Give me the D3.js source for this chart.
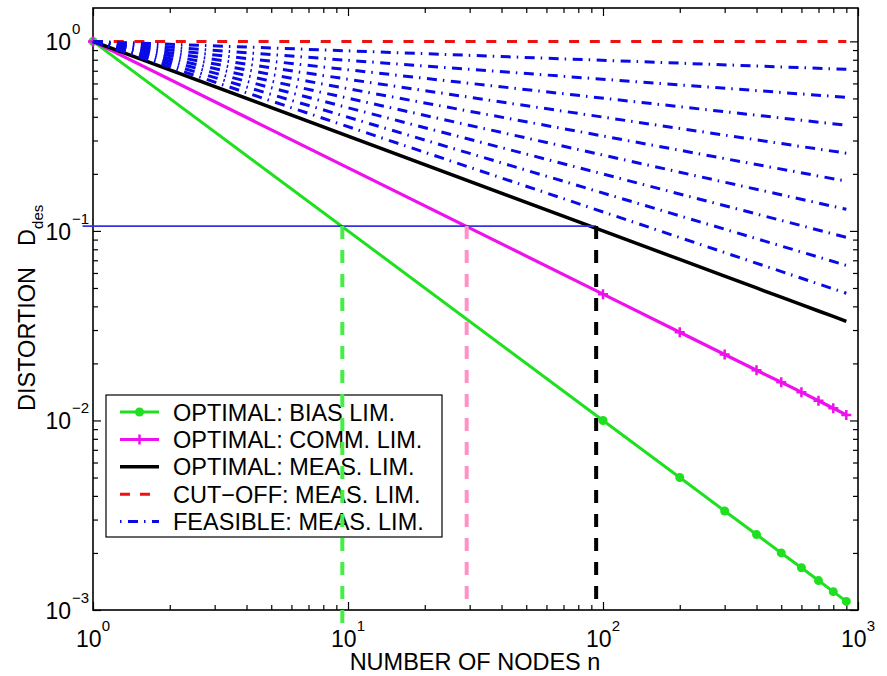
<!DOCTYPE html>
<html>
<head>
<meta charset="utf-8">
<script src="https://cdn.jsdelivr.net/npm/d3@7"></script>
<style>
  html, body { margin: 0; padding: 0; background: #fff; }
  svg { display: block; }
  text { font-family: "Liberation Sans", Arial, Helvetica, sans-serif; fill: #000; }
</style>
</head>
<body>
<svg id="chart" width="887" height="676"></svg>
<script>
// Number of nodes at which the optimal curves are sampled
const nodes = [1, 100, 200, 300, 400, 500, 600, 700, 800, 900];
// Optimal distortion, bias limited
const biasLim = [1, 0.01, 0.005, 0.00333, 0.0025, 0.002, 0.00167, 0.00143, 0.00125, 0.00111];
// Optimal distortion, communication limited
const commLim = [1, 0.0464, 0.0292, 0.0223, 0.0184, 0.0159, 0.0141, 0.0127, 0.0116, 0.0107];
// Optimal distortion, measurement limited
const measLim = [1, 0.1, 0.0707, 0.0577, 0.05, 0.0447, 0.0408, 0.0378, 0.0354, 0.0333];
// Cut-off distortion, measurement limited
const cutOff = [1, 1, 1, 1, 1, 1, 1, 1, 1, 1];
// Feasible (measurement limited) curves: span in n and distortion at each end
const feasibleNodes = [1, 900];
const feasibleStart = [1, 1, 1, 1, 1, 1, 1, 1, 1];
const feasibleEnd = [0.712, 0.507, 0.361, 0.257, 0.183, 0.130, 0.0925, 0.0658, 0.0469];
// Desired distortion level and the node counts where each optimal curve reaches it
const dDes = 0.106;
const dDesSpan = [0.91, 94];
const crossNodes = [9.5, 29.2, 94];
const crossBottom = [0.00082, 0.001, 0.001];
// Axis ticks
const xMajor = [1, 10, 100, 1000];
const xExp = ["0", "1", "2", "3"];
const yMajor = [1, 0.1, 0.01, 0.001];
const yExp = ["0", "\u22121", "\u22122", "\u22123"];
const legendLabels = [
  "OPTIMAL: BIAS LIM.",
  "OPTIMAL: COMM. LIM.",
  "OPTIMAL: MEAS. LIM.",
  "CUT\u2212OFF: MEAS. LIM.",
  "FEASIBLE: MEAS. LIM."
];

const GREEN = "#1fe01f", MAGENTA = "#ee11ee", RED = "#ee1111", BLUE = "#0a0ae6";
const DASHDOT = "10,6,1.5,6.5";
const FS = "23.5px";

const svg = d3.select("#chart");
const L = 93, R = 858, T = 8, B = 610;
const x = d3.scaleLog().domain([1, 1000]).range([L, R]);
const y = d3.scaleLog().domain([0.001, 1.5]).range([B, T]);

// minor tick positions (2..9 within each decade)
const xMinor = [];
[1, 10, 100].forEach(d => { for (let k = 2; k <= 9; k++) xMinor.push(k * d); });
const yMinor = [];
[0.001, 0.01, 0.1].forEach(d => { for (let k = 2; k <= 9; k++) yMinor.push(k * d); });

// ---- axes (ticks point inward on all four sides) ----
function addAxis(axisFn, transform, values, size) {
  const g = svg.append("g").attr("transform", transform)
    .call(axisFn.tickValues(values).tickSize(-size).tickSizeOuter(0).tickFormat(""));
  g.select(".domain").remove();
  g.selectAll(".tick line").attr("stroke", "#000").attr("stroke-width", 1.2);
  g.selectAll(".tick text").remove();
  return g;
}
addAxis(d3.axisBottom(x), `translate(0,${B})`, xMajor, 8);
addAxis(d3.axisBottom(x), `translate(0,${B})`, xMinor, 5);
addAxis(d3.axisTop(x), `translate(0,${T})`, xMajor, 8);
addAxis(d3.axisTop(x), `translate(0,${T})`, xMinor, 5);
addAxis(d3.axisLeft(y), `translate(${L},0)`, yMajor, 8);
addAxis(d3.axisLeft(y), `translate(${L},0)`, yMinor, 5);
addAxis(d3.axisRight(y), `translate(${R},0)`, yMajor, 8);
addAxis(d3.axisRight(y), `translate(${R},0)`, yMinor, 5);

svg.append("rect").attr("x", L).attr("y", T).attr("width", R - L).attr("height", B - T)
  .attr("fill", "none").attr("stroke", "#000").attr("stroke-width", 1.6);

// tick labels with superscript exponents
xMajor.forEach((v, i) => {
  const t = svg.append("text").attr("x", x(v)).attr("y", B + 37)
    .attr("text-anchor", "middle").style("font-size", "23px");
  t.append("tspan").text("10");
  t.append("tspan").attr("dy", -16).style("font-size", "15px").text(xExp[i]);
});
yMajor.forEach((v, i) => {
  svg.append("text").attr("x", 71).attr("y", y(v) + 9)
    .attr("text-anchor", "end").style("font-size", "23px").text("10");
  svg.append("text").attr("x", 72).attr("y", y(v) - 7)
    .style("font-size", "15px").text(yExp[i]);
});

// axis titles
svg.append("text").attr("x", 475).attr("y", 670).attr("text-anchor", "middle")
  .style("font-size", FS).text("NUMBER OF NODES  n");
const yl = svg.append("text").attr("transform", "translate(35,411) rotate(-90)")
  .style("font-size", FS);
yl.append("tspan").text("DISTORTION");
yl.append("tspan").attr("dx", 21).text("D");
yl.append("tspan").attr("dy", 8).style("font-size", "15px").text("des");

// ---- data curves ----
const line = d3.line().x(d => x(d[0])).y(d => y(d[1]));
const pairs = vals => nodes.map((n, i) => [n, vals[i]]);

svg.append("path").attr("d", line(pairs(biasLim))).attr("fill", "none")
  .attr("stroke", GREEN).attr("stroke-width", 3);
svg.append("g").selectAll("circle").data(pairs(biasLim)).join("circle")
  .attr("cx", d => x(d[0])).attr("cy", d => y(d[1])).attr("r", 4.5).attr("fill", GREEN);

svg.append("path").attr("d", line(pairs(commLim))).attr("fill", "none")
  .attr("stroke", MAGENTA).attr("stroke-width", 3.2);
svg.append("g").selectAll("path").data(pairs(commLim)).join("path")
  .attr("d", d => `M${x(d[0]) - 5},${y(d[1])}H${x(d[0]) + 5}M${x(d[0])},${y(d[1]) - 5}V${y(d[1]) + 5}`)
  .attr("stroke", MAGENTA).attr("stroke-width", 2.5).attr("fill", "none");

svg.append("path").attr("d", line(pairs(measLim))).attr("fill", "none")
  .attr("stroke", "#000").attr("stroke-width", 3.5);

svg.append("path").attr("d", line(pairs(cutOff))).attr("fill", "none")
  .attr("stroke", RED).attr("stroke-width", 3).attr("stroke-dasharray", "10,10.7");

feasibleEnd.forEach((e, i) => {
  const pts = [[feasibleNodes[0], feasibleStart[i]], [feasibleNodes[1], e]];
  svg.append("path").attr("d", line(pts)).attr("fill", "none")
    .attr("stroke", BLUE).attr("stroke-width", 3).attr("stroke-dasharray", DASHDOT);
});

// ---- legend ----
const lg = svg.append("g");
lg.append("rect").attr("x", 106).attr("y", 395).attr("width", 336).attr("height", 142)
  .attr("fill", "#fff").attr("stroke", "#000").attr("stroke-width", 1.2);
const rowY = i => 412 + i * 27.4;
const styles = [
  { c: GREEN, w: 3, dash: null },
  { c: MAGENTA, w: 3, dash: null },
  { c: "#000", w: 3.5, dash: null },
  { c: RED, w: 3, dash: "10,10" },
  { c: BLUE, w: 3, dash: DASHDOT, off: 16 }
];
legendLabels.forEach((lab, i) => {
  const s = styles[i];
  const ln = lg.append("line").attr("x1", 120).attr("x2", 159).attr("y1", rowY(i)).attr("y2", rowY(i))
    .attr("stroke", s.c).attr("stroke-width", s.w);
  if (s.dash) ln.attr("stroke-dasharray", s.dash).attr("stroke-dashoffset", s.off || 0);
  lg.append("text").attr("x", 173).attr("y", rowY(i) + 8.5)
    .style("font-size", FS).text(lab);
});
lg.append("circle").attr("cx", 139.5).attr("cy", rowY(0)).attr("r", 4.5).attr("fill", GREEN);
lg.append("path").attr("d", `M134.5,${rowY(1)}H144.5M139.5,${rowY(1) - 5}V${rowY(1) + 5}`)
  .attr("stroke", MAGENTA).attr("stroke-width", 2.5);

// ---- desired distortion level and crossing markers ----
svg.append("path").attr("d", line(dDesSpan.map(n => [n, dDes]))).attr("fill", "none")
  .attr("stroke", "#3434e0").attr("stroke-width", 1.6);
const crossColors = ["#44ee44", "#ff90c8", "#000"];
crossNodes.forEach((n, i) => {
  svg.append("path").attr("d", line([[n, dDes], [n, crossBottom[i]]])).attr("fill", "none")
    .attr("stroke", crossColors[i]).attr("stroke-width", 4).attr("stroke-dasharray", "13,11");
});
</script>
</body>
</html>
